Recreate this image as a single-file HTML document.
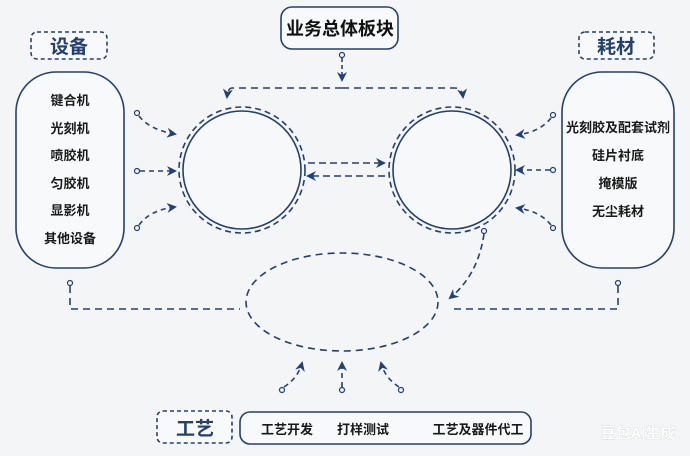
<!DOCTYPE html>
<html><head><meta charset="utf-8">
<style>
html,body{margin:0;padding:0;background:#f4f5f6;}
svg{display:block;}
text{font-family:"Liberation Sans","Noto Sans CJK SC",sans-serif;}
</style></head>
<body>
<svg width="690" height="456" viewBox="0 0 690 456" xmlns="http://www.w3.org/2000/svg">
<defs>
<marker id="ah" viewBox="0 0 10 10" refX="8" refY="5" markerWidth="10" markerHeight="10" orient="auto-start-reverse" markerUnits="userSpaceOnUse">
<path d="M0,0 L10,5 L0,10 L3,5 z" fill="#21407a"/>
</marker>
</defs>
<rect width="690" height="456" fill="#f4f5f6"/>
<g fill="none" stroke="#26406e" stroke-width="1.6">
<rect x="281" y="7" width="117" height="42" rx="11" fill="#f8f9fa"/>
<rect x="31" y="32" width="76" height="27" rx="6" stroke-dasharray="4,3" fill="#f8f9fa"/>
<rect x="579" y="32" width="75" height="27" rx="6" stroke-dasharray="4,3" fill="#f8f9fa"/>
<rect x="16" y="72" width="108" height="196" rx="40" fill="#f8f9fa"/>
<rect x="562" y="72" width="112" height="196" rx="40" fill="#f8f9fa"/>
<circle cx="242" cy="170" r="59" fill="#f7f8f9"/>
<circle cx="242" cy="170" r="63" stroke-dasharray="6,4"/>
<circle cx="452" cy="170" r="59" fill="#f7f8f9"/>
<circle cx="452" cy="170" r="63" stroke-dasharray="6,4"/>
<ellipse cx="342" cy="302" rx="96" ry="49" stroke-dasharray="7,5"/>
<circle cx="342" cy="55" r="2.5" fill="#f4f5f6" stroke-width="1.2"/>
<path d="M342 58 V80" stroke-dasharray="4,3" marker-end="url(#ah)"/>
<path d="M342 88 H232 Q228 88 227 97" stroke-dasharray="7,5" marker-end="url(#ah)"/>
<path d="M342 88 H455 Q462 88 463 97" stroke-dasharray="7,5" marker-end="url(#ah)"/>
<path d="M308 163 H384" stroke-dasharray="7,4" marker-end="url(#ah)"/>
<path d="M385 176 H308" stroke-dasharray="7,4" marker-end="url(#ah)"/>
<circle cx="137" cy="113" r="2.5" fill="#f4f5f6" stroke-width="1.2"/>
<path d="M139 116 Q150 130 175 134" stroke-dasharray="5,4" marker-end="url(#ah)"/>
<circle cx="137" cy="171" r="2.5" fill="#f4f5f6" stroke-width="1.2"/>
<path d="M140 171 H175" stroke-dasharray="5,4" marker-end="url(#ah)"/>
<circle cx="137" cy="228" r="2.5" fill="#f4f5f6" stroke-width="1.2"/>
<path d="M139 225 Q150 210 175 207" stroke-dasharray="5,4" marker-end="url(#ah)"/>
<circle cx="553" cy="115" r="2.5" fill="#f4f5f6" stroke-width="1.2"/>
<path d="M551 118 Q540 132 517 135" stroke-dasharray="5,4" marker-end="url(#ah)"/>
<circle cx="553" cy="170" r="2.5" fill="#f4f5f6" stroke-width="1.2"/>
<path d="M550 170 H517" stroke-dasharray="5,4" marker-end="url(#ah)"/>
<circle cx="553" cy="228" r="2.5" fill="#f4f5f6" stroke-width="1.2"/>
<path d="M551 225 Q540 211 517 208" stroke-dasharray="5,4" marker-end="url(#ah)"/>
<circle cx="484" cy="231" r="2.5" fill="#f4f5f6" stroke-width="1.2"/>
<path d="M484 234 Q478 275 450 298" stroke-dasharray="6,4" marker-end="url(#ah)"/>
<circle cx="70" cy="283" r="2.5" fill="#f4f5f6" stroke-width="1.2"/>
<path d="M70 286 V309 H240" stroke-dasharray="7,5"/>
<circle cx="618" cy="283" r="2.5" fill="#f4f5f6" stroke-width="1.2"/>
<path d="M618 286 V309 H450" stroke-dasharray="7,5"/>
<circle cx="282" cy="390" r="2.5" fill="#f4f5f6" stroke-width="1.2"/>
<path d="M284 387 Q298 378 302 363" stroke-dasharray="5,4" marker-end="url(#ah)"/>
<circle cx="342" cy="390" r="2.5" fill="#f4f5f6" stroke-width="1.2"/>
<path d="M342 387 V363" stroke-dasharray="5,4" marker-end="url(#ah)"/>
<circle cx="401" cy="390" r="2.5" fill="#f4f5f6" stroke-width="1.2"/>
<path d="M399 387 Q385 378 381 363" stroke-dasharray="5,4" marker-end="url(#ah)"/>
<rect x="157" y="411" width="75" height="32" rx="6" stroke-dasharray="4,3" fill="#f8f9fa"/>
<rect x="240" y="412" width="291" height="32" rx="10" fill="#f8f9fa"/>
</g>
<g font-weight="bold" text-anchor="middle">
<text x="340" y="35" font-size="18" fill="#111">业务总体板块</text>
<text x="69" y="53" font-size="19" fill="#24406e">设备</text>
<text x="616" y="53" font-size="19" fill="#24406e">耗材</text>
<text x="195" y="435" font-size="19" fill="#24406e">工艺</text>
<g font-size="13" fill="#1a1a1a">
<text x="70" y="105">键合机</text>
<text x="70" y="133">光刻机</text>
<text x="70" y="160">喷胶机</text>
<text x="70" y="188">匀胶机</text>
<text x="70" y="215">显影机</text>
<text x="70" y="243">其他设备</text>
<text x="618" y="132">光刻胶及配套试剂</text>
<text x="618" y="160">硅片衬底</text>
<text x="618" y="188">掩模版</text>
<text x="618" y="216">无尘耗材</text>
<text x="287" y="434">工艺开发</text>
<text x="363" y="434">打样测试</text>
<text x="478" y="434">工艺及器件代工</text>
</g>
<text x="638" y="438" font-size="15" fill="#ffffff" stroke="#c9cdd3" stroke-width="0.6" paint-order="stroke">豆包AI生成</text>
</g>
</svg>
</body></html>
